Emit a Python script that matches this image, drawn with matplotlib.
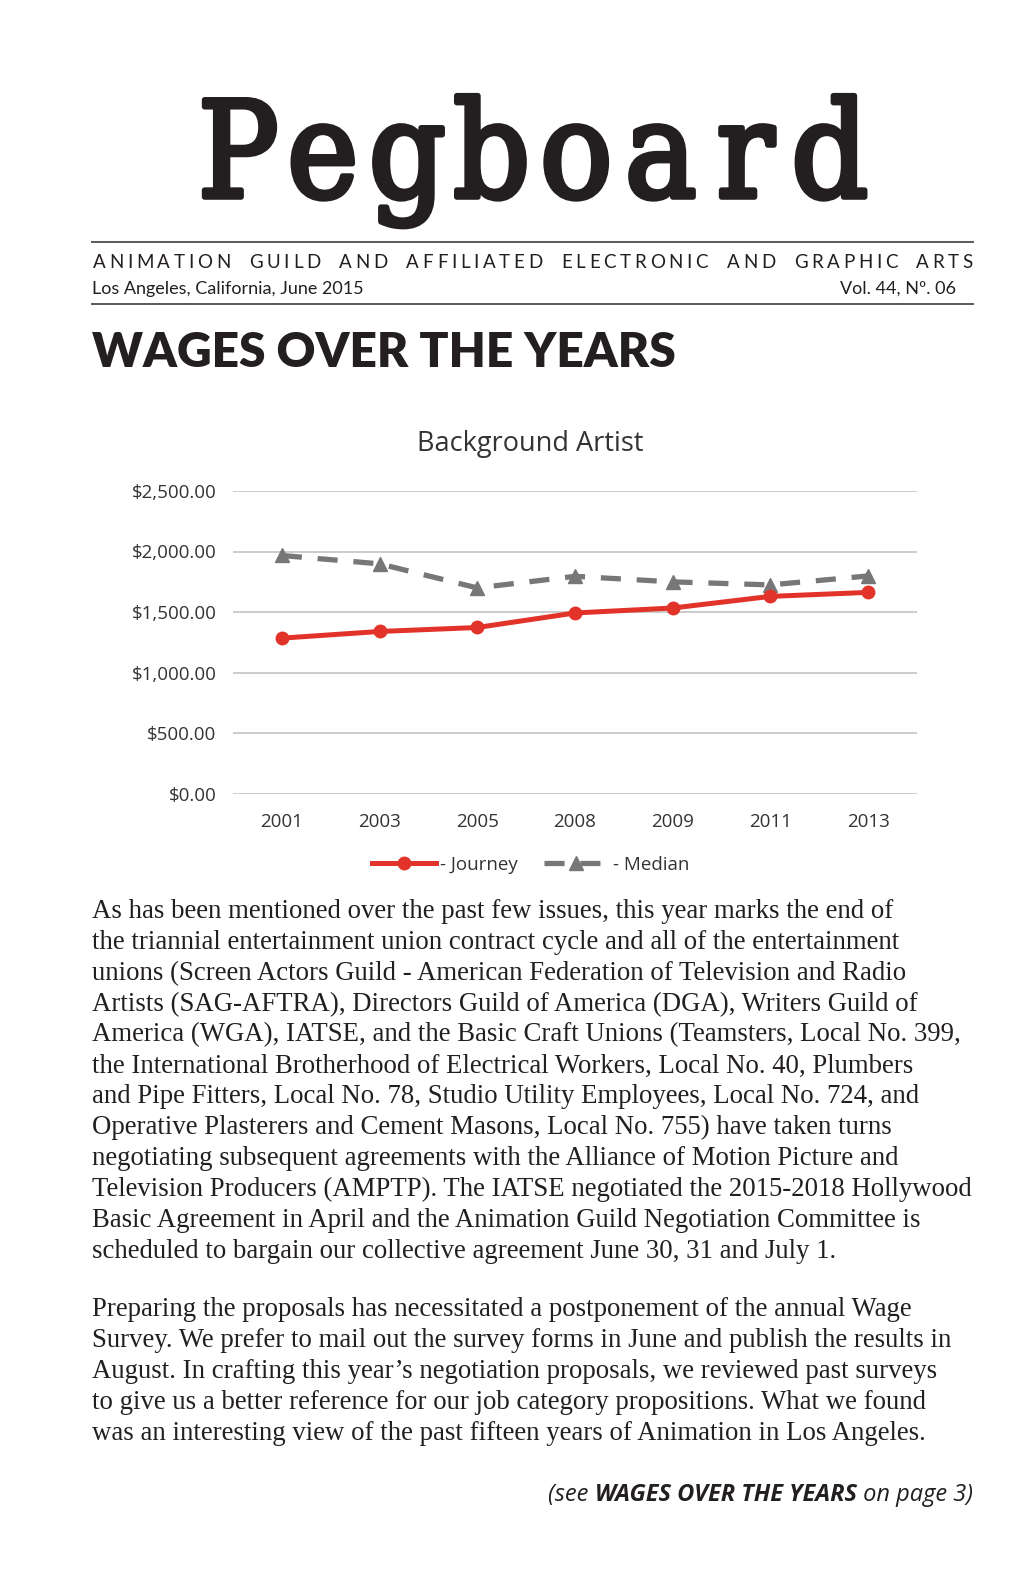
import numpy as np
import matplotlib.pyplot as plt
import matplotlib.patheffects as pe
from matplotlib.font_manager import FontProperties

years = ["2001", "2003", "2005", "2008", "2009", "2011", "2013"]
journey = [1284, 1339, 1372, 1492, 1533, 1629, 1662]
median = [1967, 1898, 1699, 1795, 1749, 1724, 1798]
yticks = [0, 500, 1000, 1500, 2000, 2500]

para1 = [
    "As has been mentioned over the past few issues, this year marks the end of",
    "the triannial entertainment union contract cycle and all of the entertainment",
    "unions (Screen Actors Guild - American Federation of Television and Radio",
    "Artists (SAG-AFTRA), Directors Guild of America (DGA), Writers Guild of",
    "America (WGA), IATSE, and the Basic Craft Unions (Teamsters, Local No. 399,",
    "the International Brotherhood of Electrical Workers, Local No. 40, Plumbers",
    "and Pipe Fitters, Local No. 78, Studio Utility Employees, Local No. 724, and",
    "Operative Plasterers and Cement Masons, Local No. 755) have taken turns",
    "negotiating subsequent agreements with the Alliance of Motion Picture and",
    "Television Producers (AMPTP). The IATSE negotiated the 2015-2018 Hollywood",
    "Basic Agreement in April and the Animation Guild Negotiation Committee is",
    "scheduled to bargain our collective agreement June 30, 31 and July 1.",
]
para2 = [
    "Preparing the proposals has necessitated a postponement of the annual Wage",
    "Survey. We prefer to mail out the survey forms in June and publish the results in",
    "August. In crafting this year\u2019s negotiation proposals, we reviewed past surveys",
    "to give us a better reference for our job category propositions. What we found",
    "was an interesting view of the past fifteen years of Animation in Los Angeles.",
]

W, H = 1020, 1576
fig = plt.figure(figsize=(W / 100, H / 100), dpi=100)
fig.patch.set_facecolor("white")


def fx(x):
    return x / W


def fy(y):
    return 1 - y / H


ink = "#231f20"

# masthead: slab serif letters on a fixed pitch, like a typewriter
mast = FontProperties(family="DejaVu Serif", weight="normal", stretch="condensed", size=96)
pitch = (872 - 196) / 8
for i, ch in enumerate("Pegboard"):
    fig.text(fx(196 + pitch * (i + 0.5)), fy(197), ch, fontproperties=mast,
             ha="center", va="baseline", color=ink,
             path_effects=[pe.withStroke(linewidth=4, foreground=ink)])
for yy in (242, 303.5):
    fig.add_artist(plt.Line2D([fx(92.5), fx(973)], [fy(yy), fy(yy)], color="#5a5a5a", lw=1.4))

renderer = fig.canvas.get_renderer()
hdr = "ANIMATION GUILD AND AFFILIATED ELECTRONIC AND GRAPHIC ARTS"
hp = FontProperties(family="Lato", size=13.5)
widths = [renderer.get_text_width_height_descent(c, hp, ismath=False)[0] if c != " " else 0 for c in hdr]
nspace = hdr.count(" ")
gaps = len(hdr) - 1
extra = (973 - 92.5) - sum(widths)
unit = extra / (gaps + nspace * 3)
x = 92.5
for c, w in zip(hdr, widths):
    if c == " ":
        x += unit * 3
    else:
        fig.text(fx(x), fy(268), c, fontproperties=hp, ha="left", va="baseline", color=ink)
    x += w + unit
fig.text(fx(92.5), fy(294), "Los Angeles, California, June 2015", family="Lato", fontsize=13,
         ha="left", va="baseline", color=ink)
fig.text(fx(956), fy(294), "Vol. 44, N\u00ba. 06", family="Lato", fontsize=13,
         ha="right", va="baseline", color=ink)

fig.text(fx(92), fy(367), "WAGES OVER THE YEARS", family="Lato", weight="heavy",
         fontsize=34.5, ha="left", va="baseline", color=ink)

# chart
ax = fig.add_axes([fx(233), fy(793.5), fx(917) - fx(233), (793.5 - 491) / H])
xs = np.arange(len(years))
ax.plot(xs, median, color="#777777", lw=3.8, dashes=(3.8, 3.0), marker="^", ms=10,
        clip_on=False, label="- Median", zorder=3)
ax.plot(xs, journey, color="#e2332a", lw=3.6, marker="o", ms=9, clip_on=False,
        label="- Journey", zorder=4)
ax.set_xlim(-0.5, len(years) - 0.5)
ax.set_ylim(0, 2500)
ax.set_yticks(yticks)
ax.set_yticklabels(["${:,.2f}".format(v) for v in yticks])
ax.set_xticks(xs)
ax.set_xticklabels(years)
ax.grid(axis="y", color="#c8c8c8", lw=1.3)
ax.set_axisbelow(True)
for s in ax.spines.values():
    s.set_visible(False)
ax.tick_params(length=0, labelsize=13.5, labelcolor="#333333", pad=12)
ax.tick_params(axis="x", pad=14)
for lab in ax.get_xticklabels() + ax.get_yticklabels():
    lab.set_family("Open Sans")
fig.text(fx(530), fy(444), "Background Artist", family="Open Sans", fontsize=19.5,
         color="#333333", ha="center", va="center")
handles, labels = ax.get_legend_handles_labels()
leg = ax.legend(handles[::-1], labels[::-1], loc="center", bbox_to_anchor=(0.435, -0.235),
                ncol=2, frameon=False, handlelength=3.4, columnspacing=1.4, handletextpad=0.25,
                prop={"family": "Open Sans", "size": 13.5})
for t in leg.get_texts():
    t.set_color("#333333")

# body text
body_font = "Liberation Serif"
y0 = 918
for i, line in enumerate(para1):
    fig.text(fx(92.5), fy(y0 + i * 30.9), line, family=body_font, fontsize=19.3,
             ha="left", va="baseline", color=ink)
y1 = 1316
for i, line in enumerate(para2):
    fig.text(fx(92.5), fy(y1 + i * 30.9), line, family=body_font, fontsize=19.3,
             ha="left", va="baseline", color=ink)

# footer: (see WAGES OVER THE YEARS on page 3)
pieces = [("(see ", "normal"), ("WAGES OVER THE YEARS", "bold"), (" on page 3)", "normal")]
fps = [FontProperties(family="Open Sans", style="italic", weight=wt, size=17) for _, wt in pieces]
ws = [renderer.get_text_width_height_descent(t, p, ismath=False)[0] for (t, _), p in zip(pieces, fps)]
x = 973 - sum(ws)
for (t, _), p, w in zip(pieces, fps, ws):
    fig.text(fx(x), fy(1501), t, fontproperties=p, ha="left", va="baseline", color=ink)
    x += w

fig.savefig("out.png", dpi=100, facecolor="white")
